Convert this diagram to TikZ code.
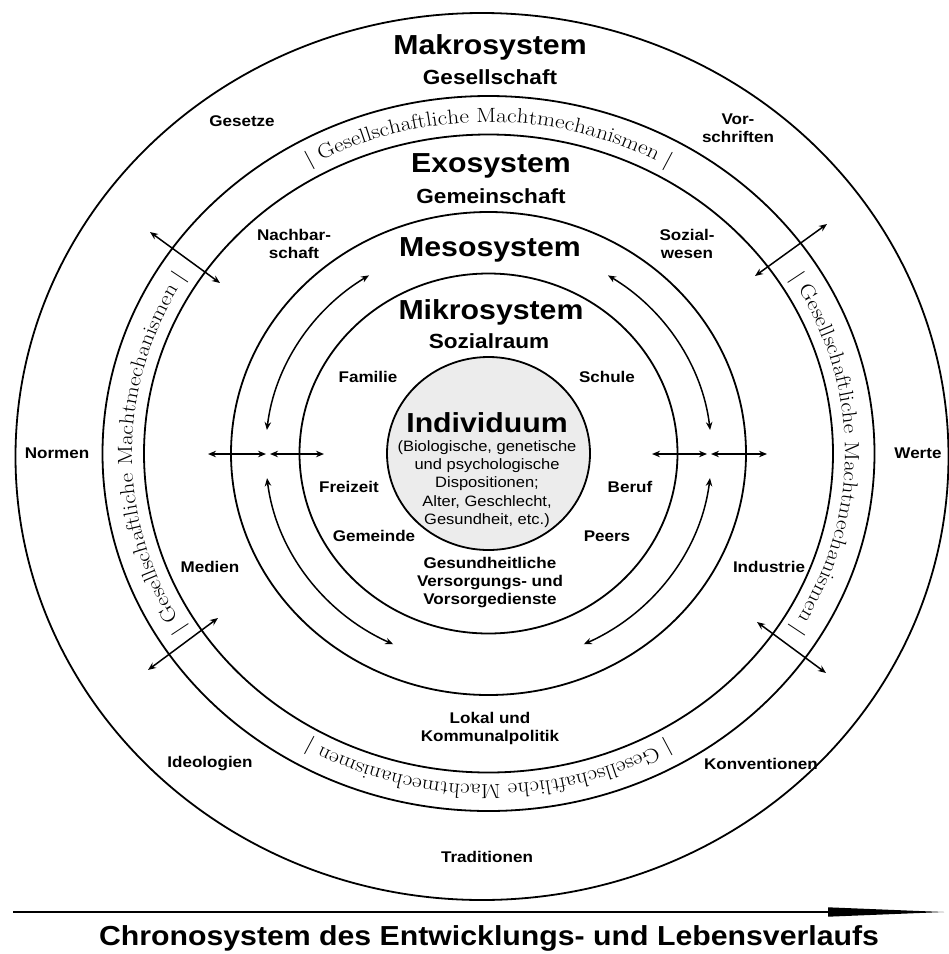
\documentclass[tikz,border=0pt]{standalone}
\usepackage{fontspec}
\newfontfamily\lbf[FakeStretch=1.1]{Liberation Sans}
\newfontfamily\bandfont[FakeStretch=1.14]{Latin Modern Roman}
\usetikzlibrary{arrows.meta,decorations.text,calc}
\tikzset{
  ring/.style={line width=1.8pt},
  title/.style={font=\lbf\bfseries\fontsize{27.5}{30}\selectfont, inner sep=0pt},
  subtitle/.style={font=\lbf\bfseries\fontsize{20.5}{24}\selectfont, inner sep=0pt},
  lbl/.style={font=\lbf\bfseries\fontsize{15.5}{18}\selectfont, inner sep=0pt, align=center},
  desc/.style={font=\lbf\fontsize{15}{18.3}\selectfont, inner sep=0pt, align=center},
  darr/.style={line width=1.5pt, {Stealth[length=8pt,width=6.5pt]}-{Stealth[length=8pt,width=6.5pt]}},
  band/.style={decorate, decoration={text along path, text format delimiters={[}{]},
    text align=center,
    text={[\bandfont\fontsize{20.5}{24}\selectfont]| Gesellschaftliche Machtmechanismen |}}},
}
\begin{document}
\begin{tikzpicture}[x=1pt,y=-1pt]
\useasboundingbox (0,0) rectangle (949,954);
\coordinate (C) at (488.5,453.5);
\coordinate (O) at (482,456.5);
% rings
\draw[ring] (O) ellipse[x radius=466.5, y radius=443.5];
\draw[ring] (C) ellipse[x radius=386, y radius=357.5];
\draw[ring] (C) ellipse[x radius=344.5, y radius=319];
\draw[ring] (C) ellipse[x radius=257.5, y radius=241.5];
\draw[ring] (C) ellipse[x radius=189, y radius=180];
\draw[ring, fill=gray!15] (C) ellipse[x radius=101.5, y radius=96.5];
% band texts
\path[band] ($(C)+(225:356.5 and 331.5)$) arc[start angle=225, end angle=315, x radius=356.5, y radius=331.5];
\path[band] ($(C)+(-45:356.5 and 331.5)$) arc[start angle=-45, end angle=45, x radius=356.5, y radius=331.5];
\path[band] ($(C)+(45:356.5 and 331.5)$) arc[start angle=45, end angle=135, x radius=356.5, y radius=331.5];
\path[band] ($(C)+(135:356.5 and 331.5)$) arc[start angle=135, end angle=225, x radius=356.5, y radius=331.5];
% curved arrows
\draw[darr] ($(C)+(186.4:223 and 211)$) arc[start angle=186.4, end angle=237.6, x radius=223, y radius=211];
\draw[darr] ($(C)+(-57.6:223 and 211)$) arc[start angle=-57.6, end angle=-6.4, x radius=223, y radius=211];
\draw[darr] ($(C)+(115.3:223 and 211)$) arc[start angle=115.3, end angle=173.3, x radius=223, y radius=211];
\draw[darr] ($(C)+(6.7:223 and 211)$) arc[start angle=6.7, end angle=64.7, x radius=223, y radius=211];
% horizontal arrows
\coordinate (hl1) at (208,454); \coordinate (hl2) at (266,454);
\coordinate (hl3) at (270,454); \coordinate (hl4) at (324,454);
\coordinate (hr1) at (652,454); \coordinate (hr2) at (707,454);
\coordinate (hr3) at (711,454); \coordinate (hr4) at (767,454);
\draw[darr] (hl1) -- (hl2);
\draw[darr] (hl3) -- (hl4);
\draw[darr] (hr1) -- (hr2);
\draw[darr] (hr3) -- (hr4);
% diagonal arrows
\coordinate (d1a) at (150,232); \coordinate (d1b) at (220,283);
\coordinate (d2a) at (755,276); \coordinate (d2b) at (827,224);
\coordinate (d3a) at (148,670); \coordinate (d3b) at (218,618);
\coordinate (d4a) at (757,622); \coordinate (d4b) at (826,673);
\draw[darr] (d1a) -- (d1b);
\draw[darr] (d2a) -- (d2b);
\draw[darr] (d3a) -- (d3b);
\draw[darr] (d4a) -- (d4b);
% titles
\node[title] (makro) at (490,47) {Makrosystem};
\node[subtitle] (ges) at (490,77) {Gesellschaft};
\node[title] (exo) at (491,166) {Exosystem};
\node[subtitle] (gem) at (491,196) {Gemeinschaft};
\node[title] (meso) at (490,250) {Mesosystem};
\node[title] (mikro) at (491,312) {Mikrosystem};
\node[subtitle] (sozr) at (489,341) {Sozialraum};
\node[title] (indiv) at (487,423) {Individuum};
\node[desc] (indesc) at (487,484) {(Biologische, genetische\\und psychologische\\Dispositionen;\\Alter, Geschlecht,\\Gesundheit, etc.)};
% micro labels
\node[lbl] (fam) at (368,377) {Familie};
\node[lbl] (sch) at (607,377) {Schule};
\node[lbl] (frz) at (349,487) {Freizeit};
\node[lbl] (ber) at (630,487) {Beruf};
\node[lbl] (gmd) at (374,536) {Gemeinde};
\node[lbl] (prs) at (607,536) {Peers};
\node[lbl] (gvd) at (490,583) {Gesundheitliche\\Versorgungs- und\\Vorsorgedienste};
% exo labels
\node[lbl] (nach) at (294,243.5) {Nachbar-\\schaft};
\node[lbl] (sozw) at (687,243.5) {Sozial-\\wesen};
\node[lbl] (med) at (210,567) {Medien};
\node[lbl] (ind) at (769,567) {Industrie};
\node[lbl] (lok) at (490,728) {Lokal und\\Kommunalpolitik};
% macro labels
\node[lbl] (gset) at (242,121) {Gesetze};
\node[lbl] (vor) at (738,128) {Vor-\\schriften};
\node[lbl] (norm) at (57,453) {Normen};
\node[lbl] (wert) at (918,453) {Werte};
\node[lbl] (ideo) at (210,764) {Ideologien};
\node[lbl] (konv) at (761,764) {Konventionen};
\node[lbl] (trad) at (487,857) {Traditionen};
% chronosystem
\coordinate (t0) at (13,912);
\coordinate (tb) at (828,912);
\coordinate (tu) at (828,907.3);
\coordinate (td) at (828,916.7);
\coordinate (t1) at (944,912);
\draw[line width=2.6pt] (t0) -- (tb);
\fill (tu) -- (t1) -- (td) -- cycle;
\node[title] (chrono) at (489,938) {Chronosystem des Entwicklungs- und Lebensverlaufs};
\end{tikzpicture}
\end{document}
